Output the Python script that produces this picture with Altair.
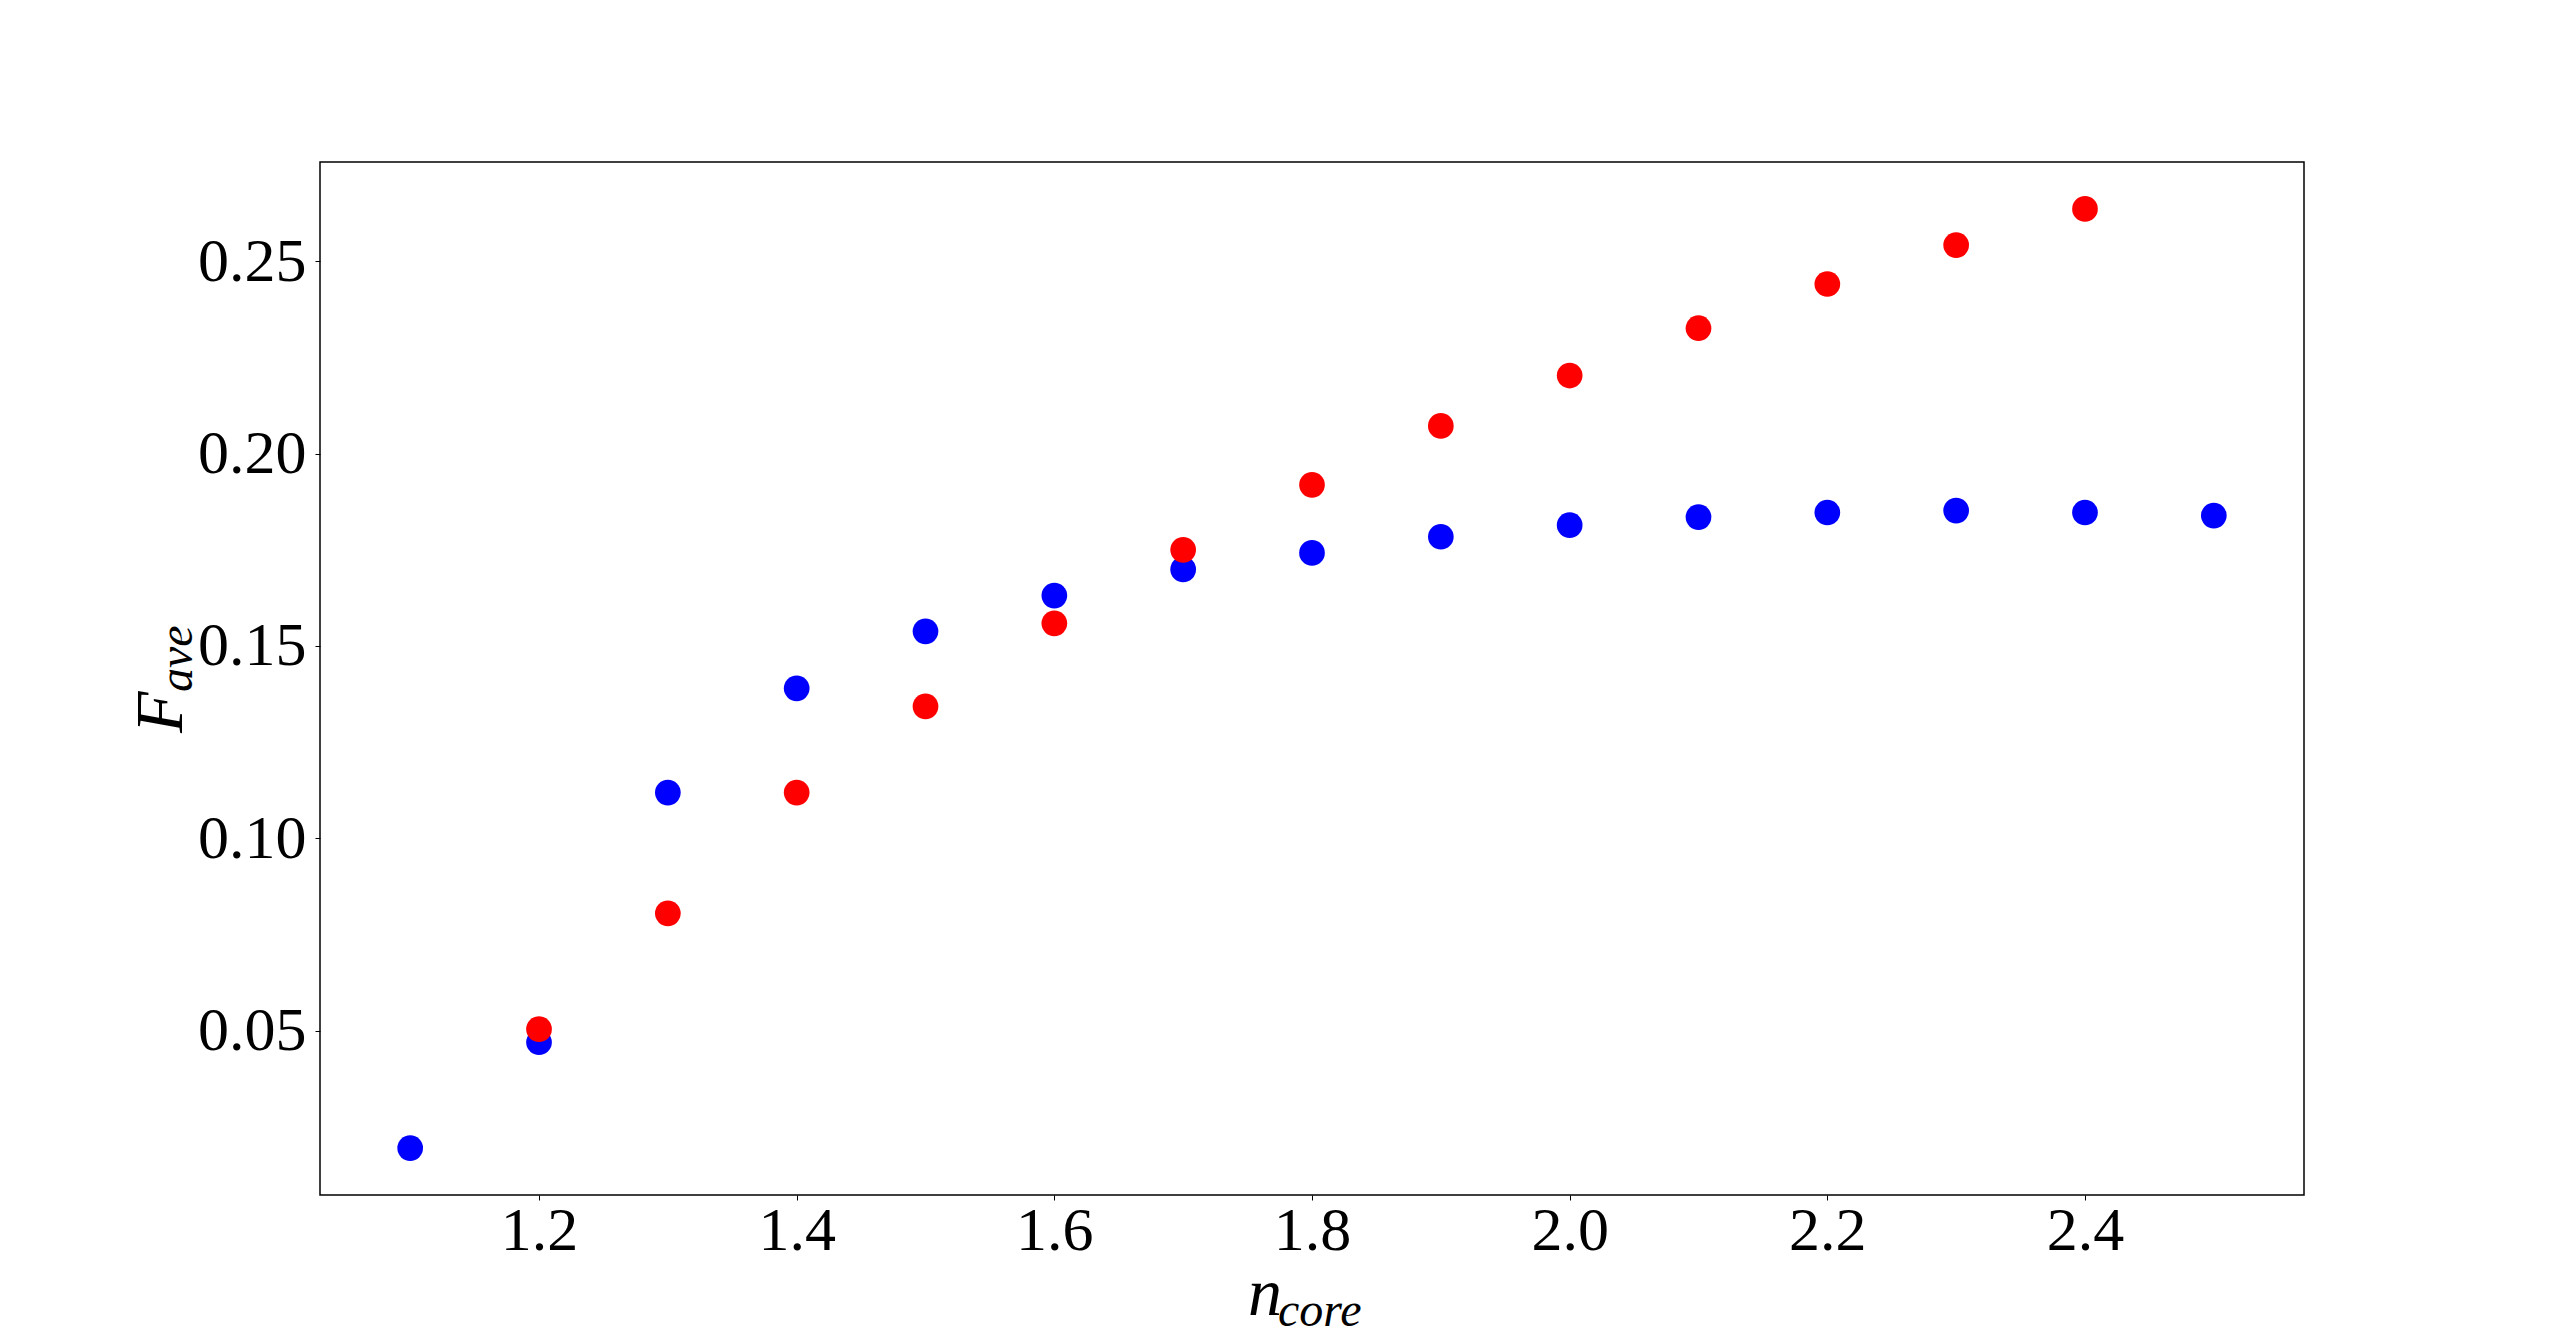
import altair as alt
import pandas as pd

# ---- data ----
n_core_blue = [1.1, 1.2, 1.3, 1.4, 1.5, 1.6, 1.7, 1.8, 1.9, 2.0, 2.1, 2.2, 2.3, 2.4, 2.5]
f_ave_blue = [0.0195, 0.0470, 0.1119, 0.1390, 0.1538, 0.1631, 0.1699, 0.1742,
              0.1784, 0.1814, 0.1835, 0.1847, 0.1852, 0.1847, 0.1839]

n_core_red = [1.2, 1.3, 1.4, 1.5, 1.6, 1.7, 1.8, 1.9, 2.0, 2.1, 2.2, 2.3, 2.4]
f_ave_red = [0.0504, 0.0805, 0.1119, 0.1343, 0.1559, 0.1750, 0.1919,
             0.2072, 0.2203, 0.2326, 0.2441, 0.2542, 0.2636]

x_ticks = [1.2, 1.4, 1.6, 1.8, 2.0, 2.2, 2.4]
y_ticks = [0.05, 0.10, 0.15, 0.20, 0.25]

blue_df = pd.DataFrame({"n": n_core_blue, "f": f_ave_blue})
red_df = pd.DataFrame({"n": n_core_red, "f": f_ave_red})

# matplotlib-like 5% margins
all_x = n_core_blue + n_core_red
all_y = f_ave_blue + f_ave_red
xr = max(all_x) - min(all_x)
yr = max(all_y) - min(all_y)
x_dom = [min(all_x) - 0.05 * xr, max(all_x) + 0.05 * xr]
y_dom = [min(all_y) - 0.05 * yr, max(all_y) + 0.05 * yr]

FONT = "Liberation Serif"
W, H = 1984, 1033

x_enc = alt.X("n:Q", scale=alt.Scale(domain=x_dom, nice=False, zero=False),
              axis=alt.Axis(values=x_ticks, format=".1f", title=None, grid=False,
                            domain=False, tickSize=5, tickWidth=1, tickColor="black",
                            labelFont=FONT, labelFontSize=62, labelColor="black",
                            labelPadding=0, labelFlush=False))
y_enc = alt.Y("f:Q", scale=alt.Scale(domain=y_dom, nice=False, zero=False),
              axis=alt.Axis(values=y_ticks, format=".2f", title=None, grid=False,
                            domain=False, tickSize=5, tickWidth=1, tickColor="black",
                            labelFont=FONT, labelFontSize=62, labelColor="black",
                            labelPadding=9, labelFlush=False))

blue = alt.Chart(blue_df).mark_circle(size=660, opacity=1, color="#0000ff").encode(x=x_enc, y=y_enc)
red = alt.Chart(red_df).mark_circle(size=660, opacity=1, color="#ff0000").encode(x="n:Q", y="f:Q")

# axis titles built from main letter + subscript
title_df = pd.DataFrame({"t": [0]})
def txt(s, x, y, size, angle=0):
    return alt.Chart(title_df).mark_text(
        text=s, font=FONT, fontStyle="italic", fontSize=size, color="black",
        align="left", baseline="alphabetic", angle=angle, clip=False
    ).encode(x=alt.value(x), y=alt.value(y))

x_main = txt("n", 928, 1153, 68)
x_sub = txt("core", 958, 1164, 48)
y_main = txt("F", -138, 571, 68, angle=270)
y_sub = txt("ave", -128, 530, 48, angle=270)

chart = alt.layer(blue, red, x_main, x_sub, y_main, y_sub).properties(
    width=W, height=H,
    autosize=alt.AutoSizeParams(type="none"),
    padding={"left": 312, "top": 154, "right": 248, "bottom": 140},
    background="white",
).configure_view(stroke="black", strokeWidth=1.5, fill="white")

chart.save("out.html", embed_options={"renderer": "svg", "actions": False})
